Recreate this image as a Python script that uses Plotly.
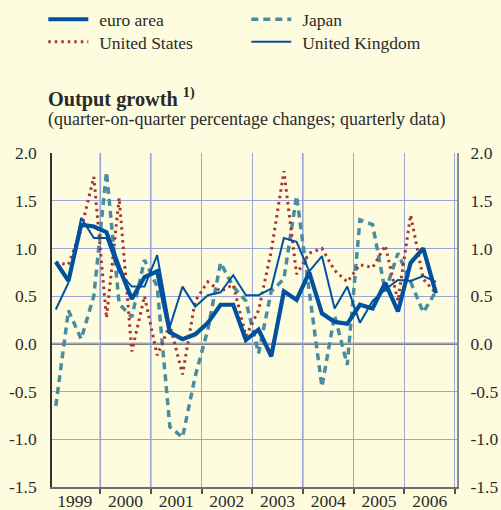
import plotly.graph_objects as go

# ---------------- data (quarterly, 1999 Q1 - 2006 Q3) ----------------
years = [1999, 2000, 2001, 2002, 2003, 2004, 2005, 2006]
year_labels = ["1999", "2000", "2001", "2002", "2003", "2004", "2005", "2006"]
n_quarters = 31

euro_area = [0.86, 0.66, 1.25, 1.23, 1.17, 0.80, 0.47, 0.70, 0.76, 0.12, 0.05, 0.10,
             0.22, 0.41, 0.41, 0.04, 0.15, -0.13, 0.55, 0.46, 0.75, 0.32, 0.23, 0.21,
             0.41, 0.37, 0.64, 0.34, 0.85, 1.00, 0.53]
united_states = [0.85, 0.83, 1.20, 1.75, 0.27, 1.53, -0.08, 0.50, -0.12, 0.20, -0.32, 0.45,
                 0.65, 0.55, 0.62, 0.08, 0.35, 0.97, 1.81, 0.73, 0.95, 1.00, 0.77, 0.65,
                 0.83, 0.80, 1.03, 0.45, 1.35, 0.68, 0.53]
japan = [-0.65, 0.35, 0.05, 0.50, 1.80, 0.42, 0.28, 0.88, 0.60, -0.87, -0.98, -0.34,
         0.15, 0.85, 0.60, 0.45, -0.10, 0.55, 0.68, 1.55, 0.55, -0.45, 0.30, -0.22,
         1.30, 1.25, 0.55, 0.95, 0.65, 0.33, 0.55]
united_kingdom = [0.36, 0.64, 1.32, 1.11, 1.11, 0.75, 0.60, 0.60, 0.93, 0.18, 0.60, 0.39,
                  0.51, 0.54, 0.72, 0.51, 0.51, 0.58, 1.11, 1.07, 0.76, 0.92, 0.37, 0.60,
                  0.22, 0.45, 0.57, 0.67, 0.66, 0.71, 0.65]

y_ticks = [-1.5, -1.0, -0.5, 0.0, 0.5, 1.0, 1.5, 2.0]
y_tick_labels = ["-1.5", "-1.0", "-0.5", "0.0", "0.5", "1.0", "1.5", "2.0"]

# quarter mid-points on a continuous year axis
quarters = [y + (q - 0.5) / 4 for y in years for q in range(1, 5)][:n_quarters]
year_mid = [y + 0.5 for y in years]
year_bounds = years + [years[-1] + 1]

# ---------------- style ----------------
bg = "#FEFCDF"
blue = "#00519E"
red = "#A8342E"
teal = "#4A8CA0"
grid = "#9AA6DA"
grid_grey = "#BDBFD6"
txt = "#2a2a2a"
font_family = "Liberation Serif, Times New Roman, serif"
pad = "\u00a0\u200a"  # small gap between legend symbol and text

fig = go.Figure()

fig.add_trace(go.Scatter(x=quarters, y=japan, mode="lines", name=pad + "Japan",
                         line=dict(color=teal, width=3.5, dash="7px,5px"),
                         legend="legend", legendrank=2))
fig.add_trace(go.Scatter(x=quarters, y=united_states, mode="lines", name=pad + "United States",
                         line=dict(color=red, width=3, dash="2.5px,4px"),
                         legend="legend2", legendrank=1))
fig.add_trace(go.Scatter(x=quarters, y=united_kingdom, mode="lines", name=pad + "United Kingdom",
                         line=dict(color=blue, width=2), legend="legend2", legendrank=2))
fig.add_trace(go.Scatter(x=quarters, y=euro_area, mode="lines", name=pad + "euro area",
                         line=dict(color=blue, width=4.2), legend="legend", legendrank=1))
# invisible trace to activate the right-hand axis
fig.add_trace(go.Scatter(x=quarters, y=euro_area, mode="lines", yaxis="y2",
                         line=dict(width=0), opacity=0, showlegend=False, hoverinfo="skip"))

shapes = []
for yb in [2000, 2001, 2004]:
    shapes.append(dict(type="line", xref="x", yref="paper", x0=yb, x1=yb, y0=0, y1=1,
                       line=dict(color=grid_grey, width=2), layer="between"))
shapes.append(dict(type="line", xref="paper", yref="y", x0=0, x1=1, y0=0, y1=0,
                   line=dict(color="#808080", width=2.5), layer="between"))
shapes.append(dict(type="line", xref="paper", yref="y", ysizemode="pixel", yanchor=0,
                   x0=0, x1=1, y0=2.5, y1=2.5,
                   line=dict(color="#FFFFFF", width=2), layer="between"))

legend_common = dict(orientation="h", xanchor="left", yanchor="top",
                     entrywidth=148, entrywidthmode="pixels", itemwidth=40,
                     bgcolor="rgba(0,0,0,0)",
                     font=dict(family=font_family, size=17.5, color=txt))

fig.update_layout(
    width=501, height=510,
    margin=dict(l=52, r=44, t=153, b=23, autoexpand=False),
    paper_bgcolor=bg, plot_bgcolor=bg,
    font=dict(family=font_family, size=17.5, color=txt),
    showlegend=True,
    legend=dict(x=-0.0215, y=1.4539, **legend_common),
    legend2=dict(x=-0.0215, y=1.3865, **legend_common),
    xaxis=dict(range=[1999.05, 2007.04], tickmode="array", tickvals=year_mid,
               ticktext=year_labels, ticks="", ticklen=0, showgrid=False, zeroline=False,
               showline=True, linecolor="#6e6e6e", linewidth=2, ticklabelstandoff=-3,
               minor=dict(tickmode="array", tickvals=year_bounds, ticks="outside",
                          ticklen=5, tickcolor="#555555", tickwidth=1.5,
                          showgrid=True, gridcolor=grid, gridwidth=1)),
    yaxis=dict(range=[-1.5, 2.0], tickmode="array", tickvals=y_ticks, ticktext=y_tick_labels,
               showgrid=True, gridcolor=grid, gridwidth=1.2, zeroline=False,
               showline=True, linecolor="#333333", linewidth=1.5, ticks="",
               ticklabelstandoff=10),
    yaxis2=dict(range=[-1.5, 2.0], overlaying="y", side="right", tickmode="array",
                tickvals=y_ticks, ticktext=y_tick_labels, showgrid=False, zeroline=False,
                showline=True, linecolor="#8a8a8a", linewidth=2, ticks="",
                ticklabelstandoff=8),
    shapes=shapes,
    annotations=[
        dict(text="<b>Output growth <sup>1)</sup></b>", xref="paper", yref="paper",
             x=-0.015, y=1.166, xanchor="left", yanchor="middle", showarrow=False,
             font=dict(family=font_family, size=20.3, color=txt)),
        dict(text="(quarter-on-quarter percentage changes; quarterly data)",
             xref="paper", yref="paper", x=-0.015, y=1.10, xanchor="left",
             yanchor="middle", showarrow=False,
             font=dict(family=font_family, size=18, color=txt)),
    ],
)

fig.write_html(
    "out.html",
    config={"displayModeBar": False},
    post_script="document.body.style.margin='0';document.body.style.background='" + bg + "';",
)
